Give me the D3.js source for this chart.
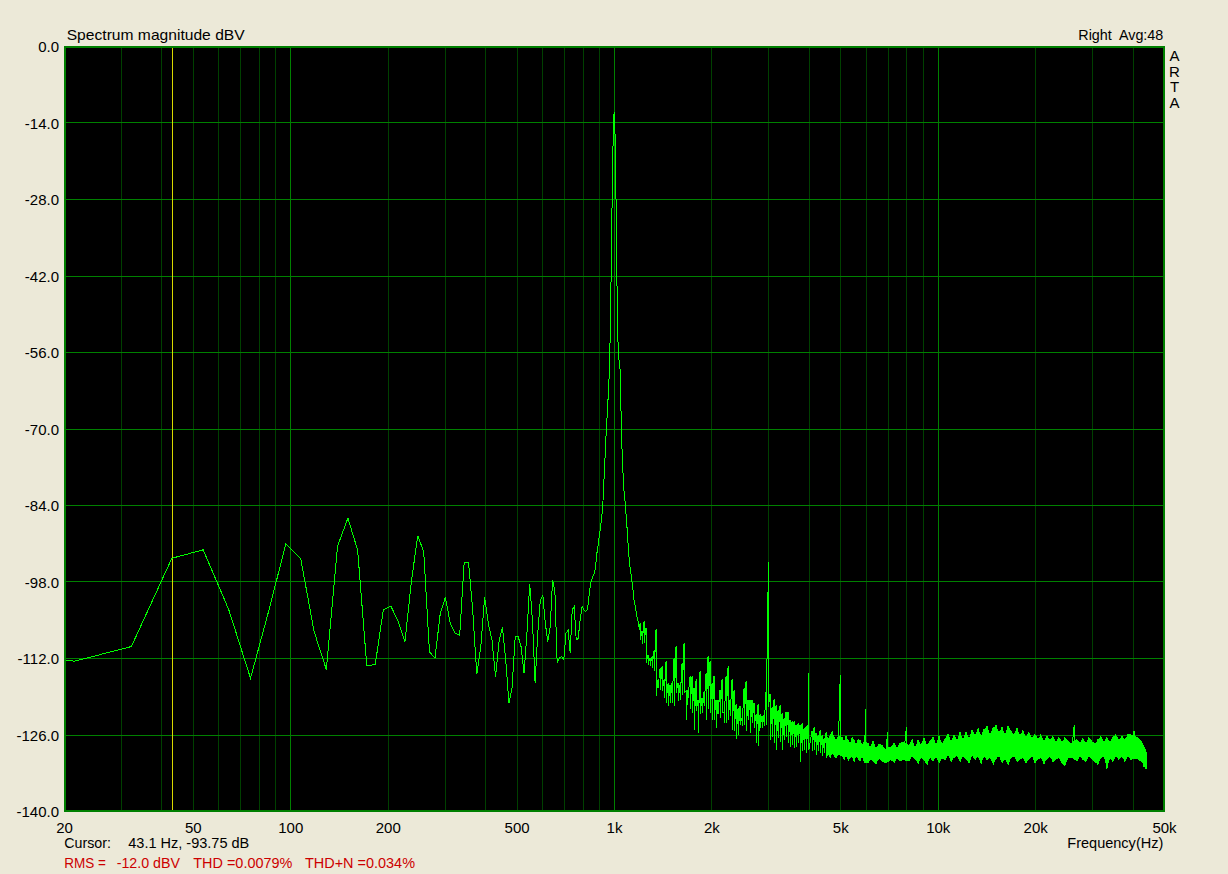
<!DOCTYPE html>
<html><head><meta charset="utf-8">
<script src="https://cdn.jsdelivr.net/npm/d3@7"></script>
<style>
html,body{margin:0;padding:0;background:#ECE9D8;}
svg{display:block;}
text{font-family:Arial,"Liberation Sans",sans-serif;font-size:15px;fill:#000;}
</style></head><body>
<svg id="chart" width="1228" height="874"></svg>
<script>
// ---- data ----
const yTickValues = [0,-14,-28,-42,-56,-70,-84,-98,-112,-126,-140];
const xTickValues = [20,50,100,200,500,1000,2000,5000,10000,20000,50000];
const xTickLabels = ["20","50","100","200","500","1k","2k","5k","10k","20k","50k"];
const gridMajorHz = [100,1000,10000];
const gridMinorHz = [30,40,50,60,70,80,90,200,300,400,500,600,700,800,900,
  2000,3000,4000,5000,6000,7000,8000,9000,20000,30000,40000];
const cursorHz = 43.07;

// FFT bins below the fundamental and the skirt of the 1 kHz tone
const traceHz = [10.77,21.53,32.30,43.07,53.83,64.60,75.36,86.13,96.90,107.7,
  118.4,129.2,140.0,150.7,161.5,172.3,183.0,193.8,204.6,215.3,
  226.1,236.9,247.6,258.4,269.1,279.9,290.7,301.4,312.2,323.0,
  333.7,344.5,355.3,366.0,376.8,387.6,398.3,409.1,419.9,430.6,
  441.4,452.2,462.9,473.7,484.5,495.2,506.0,516.8,527.5,538.3,
  549.1,559.8,570.6,581.4,592.1,602.9,613.7,624.4,635.2,646.0,
  656.7,667.5,678.3,689.0,699.8,710.6,721.3,732.1,742.9,753.6,
  764.4,775.2,785.9,796.7,807.5,818.2,
  827,833,839,845,851,863,870,876,882,888,
  895,901,908,914,921,927,934,940,947,954,
  961,968,975,982,989,996,1001,1010,1017,1025,
  1032,1047,1054,1062,1069,1077,1085,1092,1100,1108,
  1116,1124,1132,1140,1148,1156,1165,1173,1181,1190,1198];
const traceDb = [-109.8,-112.6,-109.9,-93.75,-92.2,-103.2,-115.7,-103.0,-91.1,-93.8,
  -107.1,-114.1,-91.5,-86.4,-92.3,-113.4,-113.2,-103.2,-102.5,-105.3,
  -109.0,-97.8,-89.6,-92.6,-110.9,-112.0,-103.8,-100.9,-105.7,-107.5,
  -107.8,-94.5,-94.5,-103.2,-115.0,-110.0,-100.9,-105.7,-108.7,-115.4,
  -109.0,-106.3,-112.3,-120.3,-117.3,-108.1,-108.1,-110.0,-114.8,-107.5,
  -98.4,-105.1,-116.6,-107.5,-101.5,-100.6,-105.7,-109.0,-106.3,-97.8,
  -99.8,-112.9,-112.0,-111.7,-112.3,-107.5,-106.9,-111.0,-103.2,-102.6,
  -108.7,-108.4,-105.0,-102.6,-103.2,-103.5,
  -103.2,-102.0,-100.2,-98.7,-97.8,-96.9,-96.5,-95.6,-93.8,-92.2,
  -91.0,-89.5,-88.3,-86.7,-84.9,-82.2,-77.6,-74.3,-70.0,-66.9,
  -63.3,-59.3,-50.7,-37.6,-23.6,-14.5,-12.0,-17.8,-34.0,-51.1,
  -56.6,-59.8,-71.5,-75.5,-79.8,-82.5,-84.0,-86.8,-88.9,-92.2,
  -94.4,-95.9,-97.1,-98.7,-100.2,-102.0,-102.6,-104.1,-104.7,-105.6,-106.8];

// dense region: per display column, max and min level
const bandHz = [
  1204,1221,1238,1256,1274,1292,1311,1330,1349,1368,
  1388,1408,1428,1448,1469,1490,1511,1533,1555,1577,
  1600,1623,1646,1670,1693,1718,1742,1767,1793,1818,
  1844,1871,1898,1925,1952,1980,2009,2037,2067,2096,
  2126,2157,2188,2219,2251,2283,2316,2349,2383,2417,
  2451,2486,2522,2558,2595,2632,2670,2708,2747,2786,
  2826,2867,2908,2949,
  3000,
  3035,3078,3122,3167,3212,3258,3305,3352,3400,3449,
  3498,3549,3599,3651,3703,3756,3810,3865,3920,3976,
  4000,
  4091,4150,4209,4270,4331,4393,4456,4520,4585,4651,4717,4785,4853,4923,
  5000,
  5065,5138,5211,5286,5362,5439,5517,5596,5676,5757,5840,5923,
  6000,
  6095,6180,6313,6449,6588,6731,6876,
  7000,
  7175,7330,7488,7649,7814,
  8000,
  8155,8331,8510,8694,8881,9073,9268,9468,9672,9881,
  10094,10312,10534,10761,10993,11230,11472,11719,11972,12230,
  12494,12763,13038,13319,13606,13900,14199,14505,14818,15137,
  15464,15797,16137,16485,16841,17204,17575,17953,18340,18736,
  19140,19552,19974,20404,20844,21293,21752,22221,22700,23189,
  23689,24200,24721,25254,25798,
  26400,
  26923,27504,28096,28702,29321,29953,30598,31258,31932,32620,
  33323,34041,34775,35524,36290,37072,37871,38687,39521,
  40400,
  41243,42132,42740,43352,43973,44290];
const bandMaxDb = [
  -105.6,-107.1,-105.3,-106.5,-111.4,-112.0,-111.7,-110.5,-106.7,-115.9,
  -113.8,-113.5,-115.9,-112.6,-116.6,-116.9,-116.6,-112.0,-109.8,-116.6,
  -116.9,-112.9,-109.2,-118.1,-117.8,-115.3,-115.3,-117.5,-115.9,-119.6,
  -114.4,-119.3,-118.1,-114.7,-111.7,-112.6,-116.6,-115.3,-119.6,-119.6,
  -117.8,-115.9,-122.0,-115.3,-113.5,-119.6,-115.9,-117.8,-120.5,-121.1,
  -120.8,-122.9,-117.5,-116.3,-119.6,-119.6,-119.6,-120.2,-122.3,-120.5,
  -122.3,-122.6,-122.3,-118.1,
  -94.4,
  -118.5,-120.9,-119.5,-120.6,-121.5,-120.6,-122.1,-123.0,-121.8,-121.8,
  -123.3,-123.6,-123.6,-124.2,-123.9,-124.2,-123.9,-124.8,-124.5,-124.2,
  -114.8,
  -125.4,-124.6,-125.7,-126.1,-125.2,-126.1,-126.7,-125.6,-126.7,-126.1,-125.4,-126.4,-127.0,-126.2,
  -115.1,
  -126.4,-127.3,-126.2,-127.0,-127.6,-126.5,-127.0,-127.8,-126.9,-127.0,-127.9,-127.2,
  -121.3,
  -127.6,-128.3,-127.2,-128.5,-127.7,-127.9,-128.6,
  -125.6,
  -128.2,-127.5,-128.4,-127.6,-127.3,
  -124.7,
  -127.9,-126.9,-128.4,-127.0,-127.8,-126.6,-127.9,-127.2,-126.4,-127.8,
  -126.3,-127.6,-126.8,-125.9,-127.2,-126.1,-127.0,-125.6,-126.8,-125.5,
  -126.6,-125.2,-126.0,-124.9,-126.2,-125.0,-124.5,-125.9,-124.8,-124.3,
  -125.6,-124.7,-125.9,-124.4,-125.3,-126.0,-124.9,-126.1,-125.2,-126.5,
  -125.5,-126.6,-125.9,-126.8,-126.0,-127.1,-126.2,-126.9,-126.3,-127.3,
  -126.4,-127.4,-126.5,-127.2,-127.6,
  -124.2,
  -126.8,-127.5,-126.6,-127.6,-126.5,-127.2,-127.7,-126.9,-126.3,-127.3,
  -126.5,-127.4,-126.4,-126.0,-127.0,-126.2,-126.9,-125.9,-126.0,
  -125.4,
  -126.4,-126.9,-127.3,-128.2,-128.8,-129.5];
const bandMinDb = [
  -108.6,-109.5,-109.2,-112.9,-113.2,-113.5,-113.8,-114.4,-119.0,-117.5,
  -117.8,-118.1,-119.3,-120.2,-120.8,-120.2,-120.2,-120.8,-118.4,-119.9,
  -119.6,-118.7,-118.4,-123.3,-119.3,-121.4,-122.0,-125.1,-121.7,-125.7,
  -122.3,-122.0,-120.8,-123.3,-121.4,-122.0,-123.3,-123.3,-124.8,-122.3,
  -122.9,-122.0,-123.9,-123.9,-123.3,-122.6,-125.1,-125.4,-126.9,-126.0,
  -124.2,-124.5,-124.2,-125.4,-123.3,-125.7,-123.9,-124.8,-127.5,-128.1,
  -124.8,-124.8,-124.5,-124.2,
  -121.0,
  -127.0,-126.4,-127.6,-128.8,-126.7,-127.3,-128.8,-127.0,-126.4,-127.6,
  -128.2,-127.9,-128.5,-128.2,-127.6,-131.0,-129.1,-128.8,-129.4,-128.5,
  -128.8,
  -129.1,-128.8,-129.7,-129.1,-129.4,-130.0,-129.4,-130.3,-129.7,-130.3,-129.4,-130.0,-130.3,-129.7,
  -129.7,
  -130.0,-130.6,-129.9,-130.8,-130.3,-130.0,-131.1,-130.0,-130.5,-130.9,-130.0,-131.2,
  -130.3,
  -131.2,-130.6,-130.9,-131.4,-130.4,-130.9,-131.3,
  -130.4,
  -130.7,-131.2,-130.4,-130.9,-130.7,
  -130.4,
  -130.9,-130.0,-130.6,-131.3,-130.2,-130.8,-131.5,-130.3,-130.9,-130.1,
  -131.2,-130.4,-130.7,-129.8,-131.0,-130.2,-129.9,-131.1,-130.0,-130.5,
  -131.3,-129.9,-130.6,-130.1,-131.4,-130.0,-130.7,-130.3,-131.5,-130.4,
  -130.0,-131.2,-130.5,-131.6,-130.3,-130.0,-131.1,-130.6,-130.2,-131.3,
  -130.5,-130.0,-131.2,-130.6,-130.2,-131.4,-130.5,-130.1,-131.0,-130.6,
  -130.2,-131.3,-131.7,-130.4,-130.2,
  -130.4,
  -130.9,-130.0,-130.6,-131.0,-130.0,-130.5,-131.1,-131.5,-130.3,-130.0,
  -132.3,-130.4,-131.0,-130.0,-130.6,-130.1,-131.0,-130.0,-130.6,
  -130.1,
  -130.4,-130.9,-131.0,-131.9,-132.3,-132.3];
// isolated harmonic / interference lines inside the dense band
const spikeHz = [3000,4000,5000,6000,7000,8000,26400,40400];
const denseFromHz = 4500;

// ---- chart ----
const svg = d3.select("#chart");
const L = 64, R = 1164, T = 46, B = 811;
const x = d3.scaleLog().domain([20, 50000]).range([L, R]);
const y = d3.scaleLinear().domain([-140, 0]).range([B, T]);

svg.append("defs").append("clipPath").attr("id","plotclip")
  .append("rect").attr("x",L).attr("y",T).attr("width",R-L).attr("height",B-T);

svg.append("rect").attr("x",L).attr("y",T).attr("width",R-L).attr("height",B-T).attr("fill","#000");

const g = svg.append("g").attr("shape-rendering","crispEdges");
g.selectAll("line.minor").data(gridMinorHz).join("line").attr("class","minor")
  .attr("x1",d=>Math.round(x(d))+0.5).attr("x2",d=>Math.round(x(d))+0.5)
  .attr("y1",T).attr("y2",B).attr("stroke","#004000").attr("stroke-width",1);
g.selectAll("line.major").data(gridMajorHz).join("line").attr("class","major")
  .attr("x1",d=>Math.round(x(d))+0.5).attr("x2",d=>Math.round(x(d))+0.5)
  .attr("y1",T).attr("y2",B).attr("stroke","#008000").attr("stroke-width",1);
g.selectAll("line.h").data(yTickValues).join("line").attr("class","h")
  .attr("x1",L).attr("x2",R)
  .attr("y1",d=>Math.round(y(d))+0.5).attr("y2",d=>Math.round(y(d))+0.5)
  .attr("stroke","#008000").attr("stroke-width",1);

// cursor
g.append("line").attr("x1",Math.round(x(cursorHz))+0.5).attr("x2",Math.round(x(cursorHz))+0.5)
  .attr("y1",T).attr("y2",B).attr("stroke","#d8d800").attr("stroke-width",1);

// dense noise band body (min..max of the display columns)
const bandRows = bandHz.map((f,i)=>({f, hi: bandMaxDb[i], lo: bandMinDb[i]}))
  .filter(d => d.f >= denseFromHz && !spikeHz.includes(d.f));
const area = d3.area().x(d=>x(d.f)).y0(d=>y(d.lo)).y1(d=>y(d.hi));
svg.append("path").attr("d", area(bandRows)).attr("clip-path","url(#plotclip)")
  .attr("fill","#00ff00").attr("stroke","none").attr("shape-rendering","crispEdges");

// trace
const pts = traceHz.map((f,i)=>[f, traceDb[i]]);
bandHz.forEach((f,i)=>{ pts.push([f, bandMaxDb[i]]); pts.push([f, bandMinDb[i]]); });
const line = d3.line().x(d=>x(d[0])).y(d=>y(d[1]));
svg.append("path").attr("d", line(pts)).attr("clip-path","url(#plotclip)")
  .attr("fill","none").attr("stroke","#00ff00").attr("stroke-width",1)
  .attr("shape-rendering","crispEdges");

// border
svg.append("rect").attr("x",L+1).attr("y",T+1).attr("width",R-L-1).attr("height",B-T-1)
  .attr("fill","none").attr("stroke","#008000").attr("stroke-width",2)
  .attr("shape-rendering","crispEdges");

// axes
const yAxis = svg.append("g").attr("transform",`translate(${L},0)`)
  .call(d3.axisLeft(y).tickValues(yTickValues).tickFormat(d=>d.toFixed(1)).tickSize(0).tickPadding(5));
const xAxis = svg.append("g").attr("transform",`translate(0,${B})`)
  .call(d3.axisBottom(x).tickValues(xTickValues).tickFormat((d,i)=>xTickLabels[i]).tickSize(0).tickPadding(11));
[yAxis,xAxis].forEach(a=>{
  a.select(".domain").remove();
  a.selectAll("text").attr("fill","#000").style("font-family","Arial, 'Liberation Sans', sans-serif").style("font-size","15px");
});
yAxis.selectAll("text").attr("dy","0.38em");

// texts
function txt(s, xx, yy, len, color, anchor){
  const t = svg.append("text").attr("x",xx).attr("y",yy).text(s).style("white-space","pre");
  if (len) t.attr("textLength",len).attr("lengthAdjust","spacingAndGlyphs");
  if (color) t.style("fill",color);
  if (anchor) t.attr("text-anchor",anchor);
  return t;
}
txt("Spectrum magnitude dBV", 66.7, 40, 178);
txt("Right  Avg:48", 1078.3, 40, 85);
["A","R","T","A"].forEach((c,i)=>txt(c, 1174.5, [61,76.7,92.3,108.3][i], null, null, "middle"));
txt("Cursor:", 64.3, 848.3, 46.7);
txt("43.1 Hz, -93.75 dB", 128.3, 848.3, 121);
txt("Frequency(Hz)", 1067.3, 848.3, 96);
const red = "#cc0000";
txt("RMS =", 64.3, 868.3, 41.7, red);
txt("-12.0 dBV", 116.7, 868.3, 63.3, red);
txt("THD =0.0079%", 193.3, 868.3, 99, red);
txt("THD+N =0.034%", 305, 868.3, 110, red);
</script>
</body></html>
